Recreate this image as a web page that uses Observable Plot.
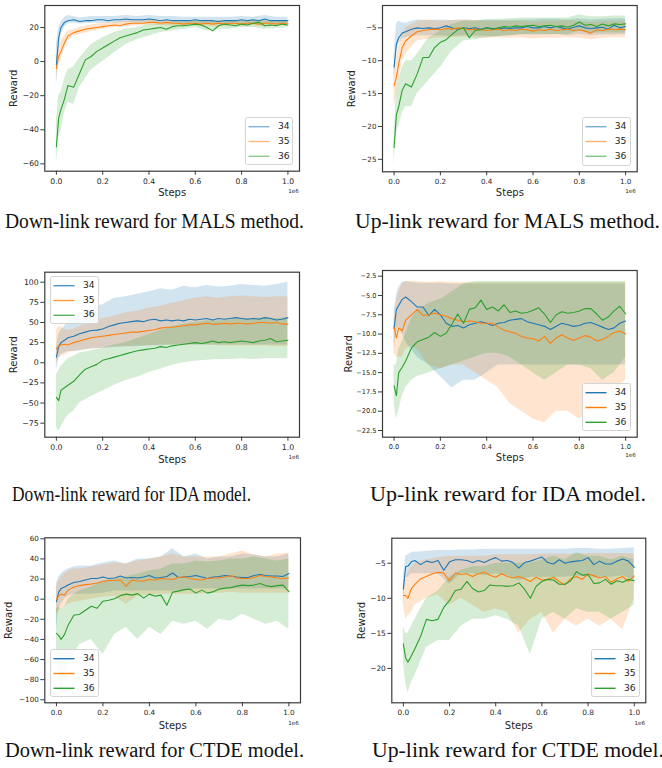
<!DOCTYPE html>
<html><head><meta charset="utf-8">
<script src="https://cdn.jsdelivr.net/npm/d3@7"></script>
<script src="https://cdn.jsdelivr.net/npm/@observablehq/plot@0.6"></script>
<style>
body{margin:0;background:#fff;}
#fig{position:relative;width:662px;height:768px;overflow:hidden;background:#fff;}
.panel{position:absolute;width:331px;height:205px;}
.legend{position:absolute;box-sizing:border-box;border:1px solid #d4d4d4;border-radius:2.5px;background:rgba(255,255,255,0.85);font-family:"DejaVu Sans";color:#262626;}
.legend svg{position:absolute;left:0;top:0;overflow:visible;}
.legend .tx{position:absolute;font-size:9.2px;line-height:10px;}
</style></head><body><div id="fig"></div>
<script>
// ---------- shared ----------
const seriesNames = ["34", "35", "36"];
const seriesColors = ["#1f77b4", "#ff7f0e", "#2ca02c"];
const steps = [0, 0.01, 0.02, 0.035, 0.05, 0.075, 0.1, 0.125, 0.15, 0.175, 0.2, 0.225, 0.25, 0.275, 0.3, 0.325, 0.35, 0.375, 0.4, 0.425, 0.45, 0.475, 0.5, 0.525, 0.55, 0.575, 0.6, 0.625, 0.65, 0.675, 0.7, 0.725, 0.75, 0.775, 0.8, 0.825, 0.85, 0.875, 0.9, 0.925, 0.95, 0.975, 1.0];
const bandSteps = [0, 0.01, 0.02, 0.035, 0.05, 0.075, 0.1, 0.15, 0.2, 0.25, 0.3, 0.35, 0.4, 0.45, 0.5, 0.55, 0.6, 0.65, 0.7, 0.75, 0.8, 0.85, 0.9, 0.95, 1.0];
const xTicks = [0, 0.2, 0.4, 0.6, 0.8, 1.0];
const captions = [
  "Down-link reward for MALS method.", "Up-link reward for MALS method.",
  "Down-link reward for IDA model.", "Up-link reward for IDA model.",
  "Down-link reward for CTDE model.", "Up-link reward for CTDE model."
];

// ---------- Panel 1: Down-link MALS ----------
const dlMalsTicks = [-60, -40, -20, 0, 20];
const dlMals34 = [-2,14,20,23,24,24.5,23.5,24,24,24.5,24.5,24,24.5,24.5,25,24.5,24.5,24.5,25,24.5,24,24.5,24,24,24,24,24.5,24,24,24,23.5,24,24,24,24.5,24,24.5,24,25,24,24,24,24];
const dlMals34Lo = [-15,5,16,20,22,22.5,22,22.5,22.5,22.5,23,22.5,23,22.5,22.5,22,22,22,22,22,22.5,22,22.5,22,22];
const dlMals34Hi = [10,20,23,26,27,26.5,25.5,26.5,26.5,26.5,27,26.5,27,26.5,26.5,26,26,26,26,26,26.5,26,27,26,26];
const dlMals35 = [-4,3,6,11,15,17,18,19,19.5,20,20.5,21,21.5,21,22,22.5,22.5,22.5,23,23,22.5,23,22.5,22.5,22,22.5,22.5,22,22.5,22,22.5,22,22.5,22.5,22,22.5,22.5,22,22.5,22.5,22,22.5,22.5];
const dlMals35Lo = [-12,-2,1,7,12,15,16,17.5,19,20,20.5,21,21.5,21,21,20.5,21,20.5,20.5,21,20.5,21,20.5,21,21];
const dlMals35Hi = [2,8,12,15,18,19,20,21.5,22.5,23,24,24,24.5,24,24,24,24,24,24,24,24,24,24,24,24];
const dlMals36 = [-50,-33,-28,-22,-14,-15,-7,1,3,6,8,10,12,14,15,16,17,18.5,19,19.5,20,19,20.5,21,21,21.5,22,21.5,20,18,21,22,21.5,21,22,21.5,22.5,23,21,21.5,21,22,21.5];
const dlMals36Lo = [-60,-45,-40,-30,-24,-25,-15,-5,0,5,10,13,15,17,18,19,20,18,19,19,20,20,19,19.5,20];
const dlMals36Hi = [-35,-20,-18,-10,-5,-3,2,10,14,17,19,20,22,22,23,23,24,23,24,24,24,24.5,24,23.5,23.5];

// ---------- Panel 2: Up-link MALS ----------
const ulMalsTicks = [-25, -20, -15, -10, -5];
const ulMals34 = [-11,-7.5,-6.5,-5.8,-5.6,-5.2,-5,-5.1,-5,-5.1,-5,-4.7,-5,-5.2,-5,-5.1,-5,-5.2,-5,-5.1,-5.2,-5,-5.1,-5,-5,-4.8,-5,-5,-4.8,-5,-4.8,-5,-5.2,-4.9,-4.7,-5,-5.1,-5,-4.9,-5.2,-4.6,-5,-4.8];
const ulMals34Lo = [-13,-9,-7.5,-6.7,-6.5,-6.3,-6.2,-6.2,-6.2,-6.3,-6.2,-6.2,-6.3,-6.3,-6.2,-6.1,-6.1,-6.1,-6,-6.2,-6,-6.2,-6.1,-6.1,-6];
const ulMals34Hi = [-9,-4.5,-4,-4.2,-4.3,-4,-3.8,-3.9,-3.8,-3.9,-3.8,-3.9,-3.8,-3.9,-3.9,-3.8,-3.8,-3.7,-3.7,-3.8,-3.6,-3.8,-3.7,-3.6,-3.6];
const ulMals35 = [-13.8,-12.5,-10.5,-8,-7,-6.2,-5.6,-5.4,-5.3,-5.2,-5.3,-5.1,-5.2,-5,-5.1,-5.3,-5.2,-5.3,-5.4,-5.3,-5.2,-5.4,-5.3,-5.4,-5.2,-5.3,-5.5,-5.3,-5.4,-5.2,-5.4,-5.3,-5.2,-5.4,-5.3,-5.5,-5.8,-5.3,-5.4,-5.2,-5.3,-5.2,-5.3];
const ulMals35Lo = [-17,-15.5,-13,-10,-9,-8,-7,-6.7,-6.5,-6.5,-6.4,-6.5,-6.6,-6.5,-6.6,-6.5,-6.7,-6.6,-6.6,-6.5,-6.6,-6.8,-6.6,-6.5,-6.5];
const ulMals35Hi = [-11,-9.5,-8,-6,-5,-4.5,-4,-3.8,-4,-3.9,-3.8,-3.9,-4,-4,-4,-4,-4.1,-4,-4,-3.9,-4,-4.2,-4,-4,-4];
const ulMals36 = [-23.2,-18.2,-17,-14.5,-13.5,-14,-12,-9.5,-9.5,-8,-7.2,-6.8,-6,-5.3,-5,-6.5,-5.4,-5.3,-5,-5.2,-5,-4.8,-4.9,-4.7,-4.8,-4.7,-4.6,-4.8,-4.7,-4.6,-4.8,-4.7,-4.9,-4.6,-4.1,-4.6,-4.5,-4.8,-4.4,-4.7,-4.4,-4.5,-4.4];
const ulMals36Lo = [-26,-21,-20,-18,-17,-17,-15,-13,-11,-8.5,-7,-6.8,-6.5,-6.3,-6.2,-6,-6,-6,-6,-6,-5.5,-5.8,-5.8,-5.8,-5.8];
const ulMals36Hi = [-21,-15,-13,-11,-10,-10,-9,-6.5,-5.5,-4.5,-4,-4,-3.8,-3.7,-3.6,-3.5,-3.5,-3.5,-3.5,-3.5,-3,-3.3,-3.3,-3.2,-3.2];

// ---------- Panel 3: Down-link IDA ----------
const dlIdaTicks = [-75, -50, -25, 0, 25, 50, 75, 100];
const dlIda34 = [7,20,25,28,31,33,36,38,40,40.5,42,45,47,49,50,51,52,51,53,54,52,53,52,53,52,54,53,54,55,53,55,54,55,56,55,54,55,54,56,55,53,54,56];
const dlIda34Lo = [-10,5,10,12,14,14,15,17,18,19,20,20,21,21,22,22,22,22,22,22,22,22,22,22,22];
const dlIda34Hi = [20,35,40,45,50,58,62,68,72,80,82,85,88,92,90,95,93,96,94,95,97,96,95,97,100];
const dlIda35 = [17,21,22,23,22,25,27,29,31,32,33,34,35,36,37,38,38,39,40,41,43,44,44,45,46,47,47,48,49,48,48,49,48,49,49,48,49,50,50,49,50,48,48];
const dlIda35Lo = [0,5,8,10,12,14,15,17,18,20,20,21,21,22,22,22,22,22,21,21,21,21,21,20,20];
const dlIda35Hi = [40,45,44,42,40,42,45,50,55,58,62,64,68,70,74,77,80,82,80,82,83,82,81,82,82];
const dlIda36 = [-43,-47,-34,-31,-28,-23,-15,-8,-5,-2,3,5,7,9,11,13,15,16,17,18,20,19,21,22,23,24,25,24,25,27,25,26,25,26,27,26,25,27,28,30,26,27,28];
const dlIda36Lo = [-80,-85,-80,-72,-65,-60,-50,-42,-35,-28,-22,-18,-12,-8,-3,0,2,3,4,4,5,4,5,5,5];
const dlIda36Hi = [-15,-10,-5,0,5,8,12,15,18,22,25,30,35,40,45,48,50,52,52,53,55,55,56,55,56];

// ---------- Panel 4: Up-link IDA ----------
const ulIdaTicks = [-22.5, -20, -17.5, -15, -12.5, -10, -7.5, -5, -2.5];
const ulIda34 = [-9.3,-6.8,-6.3,-5.5,-5.2,-5.8,-6.5,-6.5,-7.6,-6.8,-7.5,-8.6,-9,-8.9,-9.2,-8.8,-8.6,-8.4,-8.6,-8.9,-8.6,-8.5,-8.2,-8.1,-8,-8.4,-8.6,-8.8,-9,-9.4,-9,-8.6,-8.8,-9,-8.9,-8.6,-8.5,-8.8,-9.1,-9.4,-9.2,-8.6,-8.3];
const ulIda34Lo = [-12,-10,-9,-10,-11,-12,-13,-14,-15.5,-17,-16,-16,-15,-14,-14,-14,-14,-14,-14,-14,-14,-14,-14,-14,-14];
const ulIda34Hi = [-7,-5,-4,-3.3,-3.2,-3.3,-3.4,-3.4,-3.4,-3.5,-3.5,-3.5,-3.5,-3.5,-3.5,-3.5,-3.5,-3.5,-3.5,-3.5,-3.5,-3.5,-3.5,-3.5,-3.5];
const ulIda35 = [-9.1,-10.5,-9.2,-9.6,-8.2,-7.5,-6.8,-7.6,-7.5,-7.3,-7.5,-7.7,-8,-8.2,-8.4,-8.3,-8.4,-8.6,-8.6,-8.6,-9.1,-9.5,-9.7,-9.9,-10.3,-10.5,-10.6,-10.9,-10.3,-11.2,-10.5,-10.1,-10.5,-10.8,-10.5,-10.2,-10.4,-10.9,-10.7,-10.3,-9.8,-9.6,-10];
const ulIda35Lo = [-12.5,-13,-13,-13,-12,-11.5,-12,-14,-14.5,-14,-14,-15,-16,-17,-19,-20,-21,-21.5,-20,-20,-21,-20,-19.5,-17,-16];
const ulIda35Hi = [-8,-6,-4.5,-3.5,-3.2,-3.2,-3.2,-3.3,-3.2,-3.3,-3.3,-3.3,-3.3,-3.3,-3.3,-3.3,-3.3,-3.3,-3.3,-3.3,-3.3,-3.3,-3.3,-3.3,-3.3];
const ulIda36 = [-16.7,-18,-15,-14.3,-13.5,-11.8,-11,-10.7,-10.4,-9.8,-10.3,-9.9,-8.7,-7.4,-8.6,-6.8,-6.6,-5.6,-6.8,-6.5,-7,-6.2,-7.2,-7,-7.3,-7.2,-6.9,-6.6,-7.4,-8.5,-7.5,-7.1,-7.3,-7.2,-7,-6.7,-6.7,-7.4,-8.2,-7.8,-7,-6.4,-7.4];
const ulIda36Lo = [-19,-21,-20,-18,-17,-16,-15.5,-15,-14.5,-14,-13.5,-13,-12.5,-12.5,-13,-14,-15,-16,-15,-14,-14,-14.5,-16,-15,-13];
const ulIda36Hi = [-14,-14,-12,-11,-10,-8,-7,-6,-5.5,-4.5,-3.5,-3.2,-3.2,-3.2,-3.2,-3.2,-3.2,-3.2,-3.2,-3.2,-3.2,-3.2,-3.2,-3.2,-3.2];

// ---------- Panel 5: Down-link CTDE ----------
const dlCtdeTicks = [-100, -80, -60, -40, -20, 0, 20, 40, 60];
const dlCtde34 = [-2.6,7,10.5,12,14,16.5,17.5,19,20.5,20.5,22,20.5,21,23,21,21.5,21,22,23.5,21,21.5,22.5,26,21.5,22,22.5,23.5,22,20.5,22,22.5,23.5,23,22,21.5,21.5,23.5,24.5,23.5,23,23,22.5,25.5];
const dlCtde34Lo = [-30,-10,-5,0,3,5,5,5,6,8,8,8,8,8,8,8,10,10,10,10,10,10,10,10,10];
const dlCtde34Hi = [15,22,25,28,30,32,33,33,36,38,35,40,40,42,50,42,45,40,42,42,45,44,42,42,45];
const dlCtde35 = [0,3,5,4,9,12,13.5,14.5,15,16,17.5,18.5,18.5,19,13,19,18,18,19.5,19,20.5,20,19.5,21.5,22,20.5,19.5,19,20.5,21,21,22,23.5,21,20.5,20.5,21.5,23.5,22.5,22,21,20.5,21];
const dlCtde35Lo = [-15,-12,-10,-8,-5,-3,-2,0,2,3,-5,3,4,5,5,5,5,6,6,7,6,6,6,6,6];
const dlCtde35Hi = [12,18,22,25,28,30,30,32,34,36,35,38,40,42,45,42,42,42,42,45,48,44,42,45,46];
const dlCtde36 = [-34,-36,-40,-35,-26,-16,-15,-11,-7,-9,-2,-1,0.5,3.5,5,4,5.5,1,5,3,4,-6,7,8,9.5,10,6,9,6,7.5,10,11,11.5,13,14,13.5,14,15.5,13.5,12.5,13.5,14,7.5];
const dlCtde36Lo = [-60,-75,-90,-80,-65,-55,-45,-40,-55,-35,-28,-40,-28,-35,-22,-25,-22,-30,-20,-22,-15,-20,-25,-22,-30];
const dlCtde36Hi = [-10,-8,-10,-8,0,5,8,12,18,20,22,25,28,30,35,35,38,37,38,40,40,42,40,38,40];

// ---------- Panel 6: Up-link CTDE ----------
const ulCtdeTicks = [-20, -15, -10, -5];
const ulCtde34 = [-8.7,-5.5,-5.4,-4.8,-4.6,-5.2,-4.7,-4.9,-4.6,-6,-4.8,-4.5,-4.5,-4.6,-4.9,-4.6,-4.9,-4.5,-4.2,-4.7,-4.6,-4.9,-5.7,-4.9,-4.7,-4.4,-4.1,-4.9,-5.1,-4.5,-5,-4.8,-4.7,-4.6,-4.2,-5.2,-4.7,-5.1,-5.1,-4.7,-4.4,-4.7,-5.6];
const ulCtde34Lo = [-11,-7,-7,-6.5,-6.5,-6.5,-6.5,-6.5,-8,-6.5,-6.5,-6.8,-6.5,-6.8,-7.5,-7,-7,-7,-7,-6.8,-7,-7,-7,-6.8,-7.5];
const ulCtde34Hi = [-7,-4,-3.8,-3.5,-3.4,-3.4,-3.3,-3.2,-3.2,-3.1,-3.1,-3,-3,-3,-3,-3,-3,-3,-3,-2.9,-2.9,-3,-3,-2.9,-2.8];
const ulCtde35 = [-9.6,-9.6,-10,-8.6,-8,-7.2,-6.9,-6.5,-6.3,-6.4,-7.5,-6.4,-6.6,-6.5,-6.9,-6.5,-6.3,-6.7,-7,-6.5,-6.9,-7.1,-6.9,-7.2,-7.6,-7,-7.4,-7.3,-7,-7.6,-8.1,-7.2,-6.9,-7.3,-6.5,-6.8,-7.1,-6.9,-7.7,-7.2,-6.9,-7.6,-6.8];
const ulCtde35Lo = [-11,-13,-12.5,-12,-11,-10.5,-10,-9.5,-11,-10,-11,-12,-11.5,-12,-15,-13,-12,-15,-13,-14,-13,-14,-13,-14.5,-10];
const ulCtde35Hi = [-8,-7,-6.5,-5.5,-5,-4.8,-4.5,-4.2,-4,-4,-4,-4,-3.8,-3.8,-3.8,-3.8,-3.7,-3.7,-3.7,-3.7,-3.6,-3.6,-3.6,-3.6,-3.6];
const ulCtde36 = [-16.5,-18.5,-19.1,-18.2,-17.2,-15.4,-13,-13.2,-13,-11.3,-10.3,-8.9,-8.7,-7.6,-8.6,-9.1,-8.9,-8.1,-8.2,-8.2,-8.3,-8.2,-7.8,-8.7,-10,-8.3,-7.6,-7.3,-7.4,-8,-8,-7.5,-6.2,-6.7,-6.6,-7.9,-7.8,-7.3,-8,-7.5,-7.7,-7.3,-7.5];
const ulCtde36Lo = [-19,-22,-23.5,-22,-21,-19,-17,-16,-16,-14,-13,-13,-12.5,-13,-14,-18,-13,-12,-13,-11.5,-12,-12,-13,-12,-11];
const ulCtde36Hi = [-14,-15,-15,-14,-13,-11.5,-10,-9,-7,-6,-5.5,-5.5,-5,-5,-5,-5,-4.5,-4,-4.5,-3.5,-4,-4,-4.5,-4,-4.5];

// ---------- layout (positions / styles) ----------
const panels = [
  {left:0, top:0, frame:[44.3,299,5,170.7], ydom:[-64.3,32.9], yticks:dlMalsTicks, yfmt:d3.format("d"), fs:7.6,
   means:[dlMals34,dlMals35,dlMals36], los:[dlMals34Lo,dlMals35Lo,dlMals36Lo], his:[dlMals34Hi,dlMals35Hi,dlMals36Hi],
   steps:[22,-31,-6,20], legend:[245,117.3,48.3,47.7], legOp:0.55},
  {left:331, top:0, frame:[51,305.7,5,171.3], ydom:[-26.9,-1.6], yticks:ulMalsTicks, yfmt:d3.format("d"), fs:7.2,
   means:[ulMals34,ulMals35,ulMals36], los:[ulMals34Lo,ulMals35Lo,ulMals36Lo], his:[ulMals34Hi,ulMals35Hi,ulMals36Hi],
   steps:[21.4,-31,-6.7,19.4], legend:[250.7,117.3,49.3,48.4], legOp:0.6},
  {left:0, top:260, frame:[44.3,299,11.7,176.7], ydom:[-92.4,112.4], yticks:dlIdaTicks, yfmt:d3.format("d"), fs:7.8,
   means:[dlIda34,dlIda35,dlIda36], los:[dlIda34Lo,dlIda35Lo,dlIda36Lo], his:[dlIda34Hi,dlIda35Hi,dlIda36Hi],
   steps:[22.6,-31,-5.7,20], legend:[50,15.7,49,48.3], legOp:0.8},
  {left:331, top:260, frame:[51,305.7,10,176.7], ydom:[-23.37,-1.76], yticks:ulIdaTicks, yfmt:d3.format(".1f"), fs:6.6,
   means:[ulIda34,ulIda35,ulIda36], los:[ulIda34Lo,ulIda35Lo,ulIda36Lo], his:[ulIda34Hi,ulIda35Hi,ulIda36Hi],
   steps:[21,-34,-6.7,17.6], legend:[250.7,123.3,49.3,47.4], legOp:1},
  {left:0, top:525, frame:[44.3,300,12.3,177.3], ydom:[-103,61], yticks:dlCtdeTicks, yfmt:d3.format("d"), fs:7.2,
   means:[dlCtde34,dlCtde35,dlCtde36], los:[dlCtde34Lo,dlCtde35Lo,dlCtde36Lo], his:[dlCtde34Hi,dlCtde35Hi,dlCtde36Hi],
   steps:[22.7,-36,-7,20], legend:[50,124,49,48.3], legOp:1},
  {left:331, top:525, frame:[60.3,314.3,12.7,177.3], ydom:[-24.9,-1.43], yticks:ulCtdeTicks, yfmt:d3.format("d"), fs:7.4,
   means:[ulCtde34,ulCtde35,ulCtde36], los:[ulCtde34Lo,ulCtde35Lo,ulCtde36Lo], his:[ulCtde34Hi,ulCtde35Hi,ulCtde36Hi],
   steps:[22.7,-30,-6,20], legend:[260,124,49,47.7], legOp:1}
];
const captionBoxes = [[5,227.5,299],[355,227.5,305],[12,501,239],[370,501,276],[5,757,299],[372,757,292]];

const fig = document.getElementById("fig");
const W = 331, H = 205;
const NS = "http://www.w3.org/2000/svg";

panels.forEach((p) => {
  const [fl, fr, ft, fb] = p.frame;
  const xdom = [-0.05, 1.05];
  const lines = [], bands = [];
  p.means.forEach((arr, si) => arr.forEach((v, i) => lines.push({step: steps[i], value: v, series: seriesNames[si]})));
  p.los.forEach((arr, si) => arr.forEach((v, i) => bands.push({step: bandSteps[i], lo: v, hi: p.his[si][i], series: seriesNames[si]})));
  const [sdy, rdx, edx, edy] = p.steps;
  const chart = Plot.plot({
    width: W, height: H,
    marginLeft: fl, marginRight: W - fr, marginTop: ft, marginBottom: H - fb,
    x: {domain: xdom},
    y: {domain: p.ydom},
    color: {domain: seriesNames, range: seriesColors},
    style: {fontFamily: "DejaVu Sans", fontSize: p.fs + "px", color: "#262626", background: "transparent", overflow: "visible"},
    marks: [
      Plot.areaY(bands, {x: "step", y1: "lo", y2: "hi", z: "series", fill: "series", fillOpacity: 0.2, clip: true}),
      Plot.lineY(lines, {x: "step", y: "value", z: "series", stroke: "series", strokeWidth: 1.1, clip: true}),
      Plot.frame({stroke: "#3a3a3a", strokeWidth: 1.2}),
      Plot.axisX({ticks: xTicks, tickFormat: d3.format(".1f"), tickSize: 4, tickPadding: 3, label: null, stroke: "#3a3a3a", fontSize: p.fs}),
      Plot.axisY({ticks: p.yticks, tickFormat: p.yfmt, tickSize: 4, tickPadding: 2, label: null, stroke: "#3a3a3a", fontSize: p.fs}),
      Plot.text(["Steps"], {text: d => d, frameAnchor: "bottom", dy: sdy, textAnchor: "middle", lineAnchor: "middle", fontSize: 10}),
      Plot.text(["Reward"], {text: d => d, frameAnchor: "left", dx: rdx, rotate: -90, textAnchor: "middle", lineAnchor: "middle", fontSize: 10}),
      Plot.text(["1e6"], {text: d => d, frameAnchor: "bottom-right", dx: edx, dy: edy, textAnchor: "middle", lineAnchor: "middle", fontSize: 5.6})
    ]
  });
  const div = document.createElement("div");
  div.className = "panel";
  div.style.left = p.left + "px";
  div.style.top = p.top + "px";
  div.appendChild(chart);
  // legend
  const [lx, ly, lw, lh] = p.legend;
  const leg = document.createElement("div");
  leg.className = "legend";
  Object.assign(leg.style, {left: lx + "px", top: ly + "px", width: lw + "px", height: lh + "px"});
  const lsvg = document.createElementNS(NS, "svg");
  lsvg.setAttribute("width", lw);
  lsvg.setAttribute("height", lh);
  seriesNames.forEach((name, i) => {
    const cy = 8.7 + i * 14.8;
    const ln = document.createElementNS(NS, "line");
    ln.setAttribute("x1", 2.5);
    ln.setAttribute("x2", 23.5);
    ln.setAttribute("y1", cy);
    ln.setAttribute("y2", cy);
    ln.setAttribute("stroke", seriesColors[i]);
    ln.setAttribute("stroke-width", 1.4);
    ln.setAttribute("stroke-opacity", p.legOp);
    lsvg.appendChild(ln);
    const tx = document.createElement("div");
    tx.className = "tx";
    tx.textContent = name;
    Object.assign(tx.style, {left: "32px", top: (cy - 5.5) + "px"});
    leg.appendChild(tx);
  });
  leg.appendChild(lsvg);
  div.appendChild(leg);
  fig.appendChild(div);
});

// captions
const capSvg = document.createElementNS(NS, "svg");
capSvg.setAttribute("width", 662);
capSvg.setAttribute("height", 768);
capSvg.style.position = "absolute";
capSvg.style.left = "0px";
capSvg.style.top = "0px";
captions.forEach((c, i) => {
  const [x, y, len] = captionBoxes[i];
  const t = document.createElementNS(NS, "text");
  t.setAttribute("x", x);
  t.setAttribute("y", y);
  t.setAttribute("textLength", len);
  t.setAttribute("lengthAdjust", "spacingAndGlyphs");
  t.setAttribute("font-family", "Liberation Serif");
  t.setAttribute("font-size", "20");
  t.setAttribute("fill", "#111");
  t.textContent = c;
  capSvg.appendChild(t);
});
fig.appendChild(capSvg);
</script>
</body></html>
